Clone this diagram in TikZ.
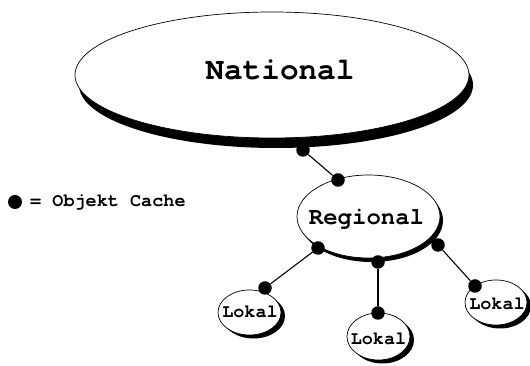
\documentclass[tikz,border=0pt]{standalone}
\usepackage{fontspec}
\setmonofont{TeX Gyre Cursor}
\usetikzlibrary{shapes.geometric,shadows}

\tikzset{
  cachetier/.style={ellipse, draw=black, line width=0.7pt, fill=white, inner sep=0pt},
  bigshadow/.style={drop shadow={shadow xshift=4pt, shadow yshift=-10pt, fill=black, opacity=1}},
  midshadow/.style={drop shadow={shadow xshift=3pt, shadow yshift=-4pt, fill=black, opacity=1}},
  smallshadow/.style={drop shadow={shadow xshift=4pt, shadow yshift=-3.5pt, fill=black, opacity=1}},
  tierlabel/.style={font=\ttfamily\bfseries, inner sep=0pt, anchor=base},
  cachedot/.style={circle, fill=black, draw=none, minimum size=13.5pt, inner sep=0pt},
  wire/.style={line width=1.1pt, black}
}

\begin{document}
\begin{tikzpicture}[x=1pt, y=1pt]
\useasboundingbox (0,0) rectangle (530,366);

% cache hierarchy levels
\node[cachetier, bigshadow, minimum width=394pt, minimum height=126pt] (nat) at (272,291) {};
\node[cachetier, midshadow, minimum width=143pt, minimum height=83pt] (reg) at (368.5,149.5) {};
\node[cachetier, smallshadow, minimum width=63pt, minimum height=45pt] (lok1) at (249.5,53.5) {};
\node[cachetier, smallshadow, minimum width=63pt, minimum height=47pt] (lok2) at (378.5,29.5) {};
\node[cachetier, smallshadow, minimum width=62pt, minimum height=45pt] (lok3) at (496,63.5) {};

% level names
\node[tierlabel, font=\ttfamily\bfseries\fontsize{31}{34}\selectfont] (natlbl) at (280,286) {National};
\node[tierlabel, font=\ttfamily\bfseries\fontsize{24}{27}\selectfont] (reglbl) at (366.5,141) {Regional};
\node[tierlabel, font=\ttfamily\bfseries\fontsize{18.5}{21}\selectfont] (lok1lbl) at (250,48) {Lokal};
\node[tierlabel, font=\ttfamily\bfseries\fontsize{18.5}{21}\selectfont] (lok2lbl) at (378.5,21) {Lokal};
\node[tierlabel, font=\ttfamily\bfseries\fontsize{18.5}{21}\selectfont] (lok3lbl) at (497,56) {Lokal};

% object caches
\node[cachedot] (natdot) at (303,216) {};
\node[cachedot] (regtop) at (338,186) {};
\node[cachedot] (regl) at (318,118) {};
\node[cachedot] (regm) at (378,104) {};
\node[cachedot] (regr) at (438,121) {};
\node[cachedot] (lok1dot) at (265,78) {};
\node[cachedot] (lok2dot) at (378,53) {};
\node[cachedot] (lok3dot) at (475,80) {};

% links between caches
\draw[wire] (natdot) -- (regtop);
\draw[wire] (regl) -- (lok1dot);
\draw[wire] (regm) -- (lok2dot);
\draw[wire] (regr) -- (lok3dot);

% legend
\node[cachedot, minimum size=14pt] (legdot) at (15,164) {};
\node[tierlabel, anchor=base west, font=\ttfamily\bfseries\fontsize{18.5}{21}\selectfont] (legtext) at (30,159) {= Objekt Cache};
\end{tikzpicture}
\end{document}
